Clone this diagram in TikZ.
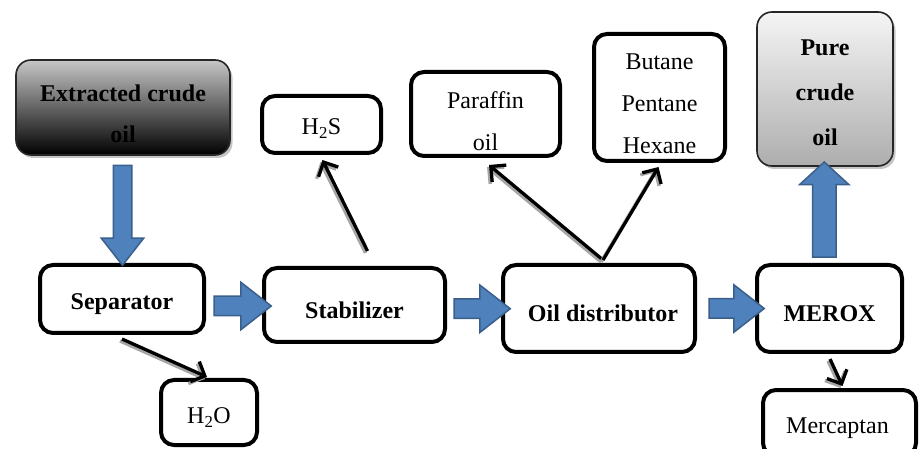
\documentclass[tikz,border=0pt]{standalone}
\usepackage{fontspec}
\setmainfont{Liberation Serif}
\usetikzlibrary{shapes.arrows,shadows,calc,arrows.meta}
\definecolor{arrblue}{HTML}{4F81BD}
\definecolor{bordblue}{HTML}{3A5F8B}
\begin{document}
\begin{tikzpicture}[x=1pt,y=-1pt,
  box/.style={draw=black, line width=4pt, rounded corners=13pt, fill=white, inner sep=0pt},
  gbox/.style={draw=black!85, line width=1.6pt, rounded corners=15pt, inner sep=0pt,
     drop shadow={shadow xshift=2.5pt, shadow yshift=-3pt, fill=black!45}},
  txt/.style={font=\fontsize{24}{42}\selectfont, align=center, inner sep=0pt},
  btxt/.style={font=\fontsize{24}{41}\selectfont\bfseries, align=center, inner sep=0pt},
  barrow/.style={single arrow, draw=bordblue, fill=arrblue, line width=1.5pt,
     inner xsep=0pt, inner ysep=9pt, single arrow head extend=14pt,
     single arrow tip angle=76, minimum width=1pt},
  ln/.style={line width=3.3pt, -{Straight Barb[length=11pt,width=22pt,line width=3.3pt]},
     preaction={draw=black!35, line width=3.3pt, -{Straight Barb[length=11pt,width=22pt,line width=3.3pt]},
       transform canvas={xshift=-2pt,yshift=-2pt}}}
]
\useasboundingbox (0,0) rectangle (922,449);

% boxes
\node[gbox, top color=black!22, bottom color=black, minimum width=214pt, minimum height=95pt] (ext) at (123,107.5) {};
\node[btxt] (extt) at ($(ext.center)+(0,6)$) {Extracted crude\\oil};

\node[box, minimum width=164pt, minimum height=68pt] (sep) at (122,299) {};
\node[btxt] (sept) at ($(sep.center)+(0,5)$) {Separator};

\node[box, minimum width=181pt, minimum height=74pt] (stab) at (354.5,305) {};
\node[btxt] (stabt) at ($(stab.center)+(0,5)$) {Stabilizer};

\node[box, minimum width=192pt, minimum height=87pt] (dist) at (599,308.5) {};
\node[btxt] (distt) at ($(dist.center)+(4,5)$) {Oil distributor};

\node[box, minimum width=145pt, minimum height=87pt] (merox) at (829.5,308.5) {};
\node[btxt] (meroxt) at ($(merox.center)+(0,5)$) {MEROX};

\node[box, minimum width=96pt, minimum height=65pt] (h2o) at (209,412.5) {};
\node[txt] (h2ot) at ($(h2o.center)+(0,5)$) {H\textsubscript{2}O};

\node[box, minimum width=119pt, minimum height=57pt] (h2s) at (321.5,124.5) {};
\node[txt] (h2st) at ($(h2s.center)+(0,4)$) {H\textsubscript{2}S};

\node[box, minimum width=149pt, minimum height=84pt] (par) at (485.5,114) {};
\node[txt] (part) at ($(par.center)+(0,7)$) {Paraffin\\oil};

\node[box, minimum width=131pt, minimum height=127pt] (but) at (659.5,97.5) {};
\node[txt] (butt) at ($(but.center)+(0,6)$) {Butane\\Pentane\\Hexane};

\node[gbox, top color=black!4, bottom color=black!32, minimum width=136pt, minimum height=154pt] (pure) at (825,89) {};
\node[btxt, font=\fontsize{24}{45}\selectfont\bfseries] (puret) at ($(pure.center)+(0,4)$) {Pure\\crude\\oil};

\node[box, minimum width=153pt, minimum height=66pt] (merc) at (839.5,423) {};
\node[txt] (merct) at ($(merc.center)+(-2,5)$) {Mercaptan};

% block arrows
\node[barrow, rotate=-90, minimum height=100pt, inner ysep=8.5pt, single arrow head extend=12pt] (a1) at ($(ext.south)!.5!(sep.north)+(0,0)$) {};
\node[barrow, minimum height=57pt] (a2) at ($(sep.east)!.5!(stab.west)+(2.5,4)$) {};
\node[barrow, minimum height=56pt] (a3) at ($(stab.east)!.5!(dist.west)+(2,2)$) {};
\node[barrow, minimum height=55pt] (a4) at ($(dist.east)!.5!(merox.west)+(4.5,0)$) {};
\node[barrow, rotate=90, minimum height=95pt, inner ysep=11pt, single arrow head extend=13pt, single arrow tip angle=95] (a5) at ($(merox.north)!.5!(pure.south)+(-3,0)$) {};

% line arrows
\draw[ln] ($(sep.south)+(0,4)$) -- ($(h2o.north)+(-2,-1)$);
\draw[ln] ($(stab.north)+(13,-15)$) -- ($(h2s.south)+(1,5)$);
\draw[ln] ($(dist.north)+(4,-3)$) -- ($(par.south)+(3.5,7)$);
\draw[ln] ($(dist.north)+(4,-3)$) -- ($(but.south)+(-1,4)$);
\draw[ln] ($(merox.south)+(0.5,5)$) -- ($(merc.north)+(3,-2)$);
\end{tikzpicture}
\end{document}
